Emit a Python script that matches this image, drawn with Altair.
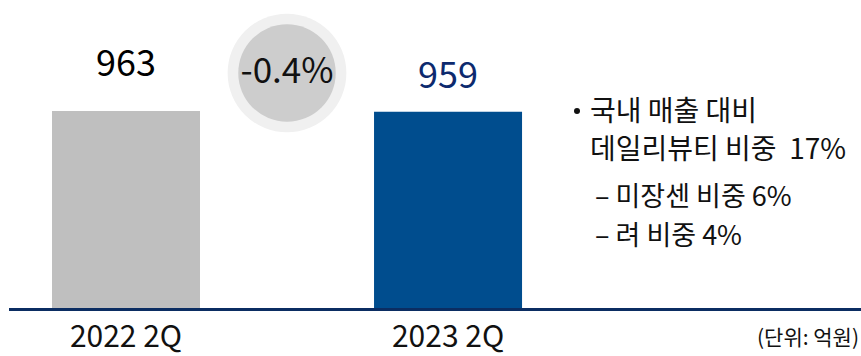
import altair as alt
import pandas as pd

# ---- data ----
categories = ["2022 2Q", "2023 2Q"]
values = [963, 959]
bar_colors = ["#bfbfbf", "#004d8e"]
label_colors = ["#000000", "#0d2a6e"]
change_text = "-0.4%"
note_main = ["국내 매출 대비", "데일리뷰티 비중\u00a0\u00a017%"]
note_sub = ["– 미장센 비중 6%", "– 려 비중 4%"]
unit_text = "(단위: 억원)"

FONT = "Noto Sans CJK KR"
df = pd.DataFrame({"cat": categories, "val": values})

W, H = 861, 308

x = alt.X("cat:N", axis=None, sort=categories,
          scale=alt.Scale(domain=categories, paddingInner=0.5404,
                          paddingOuter=0.607, align=0.133))
y = alt.Y("val:Q", axis=None, scale=alt.Scale(domain=[0, 1505]))

base = alt.Chart(df)

bars = base.mark_bar().encode(
    x=x, y=y,
    color=alt.Color("cat:N", scale=alt.Scale(domain=categories, range=bar_colors), legend=None),
)

lbl1 = base.transform_filter(alt.datum.cat == categories[0]).mark_text(
    font=FONT, fontSize=36, baseline="middle", dy=-46, color=label_colors[0]
).encode(x=x, y=y, text=alt.Text("val:Q"))

lbl2 = base.transform_filter(alt.datum.cat == categories[1]).mark_text(
    font=FONT, fontSize=36, baseline="middle", dy=-35, color=label_colors[1]
).encode(x=x, y=y, text=alt.Text("val:Q"))

xlabels = base.mark_text(font=FONT, fontSize=30, baseline="middle", color="#111111").encode(
    x=x, y=alt.value(338), text="cat:N"
)

baseline = alt.Chart(pd.DataFrame({"a": [0]})).mark_rule(
    color="#0b2d62", strokeWidth=3
).encode(x=alt.value(9), x2=alt.value(W), y=alt.value(309.5))

one = pd.DataFrame({"t": [change_text]})
outer = alt.Chart(one).mark_point(filled=True, shape="circle", size=14100, color="#f0f0f0", opacity=1).encode(
    x=alt.value(287), y=alt.value(73))
inner = alt.Chart(one).mark_point(filled=True, shape="circle", size=9500, color="#cdcdcd", opacity=1).encode(
    x=alt.value(287), y=alt.value(73))
ctext = alt.Chart(one).mark_text(font=FONT, fontSize=35, baseline="middle", color="#111111").encode(
    x=alt.value(287), y=alt.value(72), text="t:N")

bullet = alt.Chart(pd.DataFrame({"t": ["•"]})).mark_point(
    filled=True, shape="circle", size=36, color="#111111", opacity=1
).encode(x=alt.value(577), y=alt.value(111))

main1 = alt.Chart(pd.DataFrame({"t": [note_main[0]]})).mark_text(
    font=FONT, fontSize=28, baseline="middle", align="left", color="#111111"
).encode(x=alt.value(590), y=alt.value(113), text="t:N")
main2 = alt.Chart(pd.DataFrame({"t": [note_main[1]]})).mark_text(
    font=FONT, fontSize=28, baseline="middle", align="left", color="#111111"
).encode(x=alt.value(590), y=alt.value(151), text="t:N")
sub1 = alt.Chart(pd.DataFrame({"t": [note_sub[0]]})).mark_text(
    font=FONT, fontSize=27, baseline="middle", align="left", color="#111111"
).encode(x=alt.value(595), y=alt.value(198), text="t:N")
sub2 = alt.Chart(pd.DataFrame({"t": [note_sub[1]]})).mark_text(
    font=FONT, fontSize=27, baseline="middle", align="left", color="#111111"
).encode(x=alt.value(595), y=alt.value(237), text="t:N")

unit = alt.Chart(pd.DataFrame({"t": [unit_text]})).mark_text(
    font=FONT, fontSize=21, baseline="middle", align="right", color="#111111"
).encode(x=alt.value(859), y=alt.value(339), text="t:N")

chart = alt.layer(
    bars, baseline, outer, inner, ctext, lbl1, lbl2, xlabels,
    bullet, main1, main2, sub1, sub2, unit
).properties(
    width=W, height=H,
    autosize=alt.AutoSizeParams(type="none"),
    padding={"left": 0, "top": 0, "right": 0, "bottom": 48},
    background="white",
).configure_view(stroke=None)

chart.save("out.html", embed_options={"renderer": "svg", "actions": False})
